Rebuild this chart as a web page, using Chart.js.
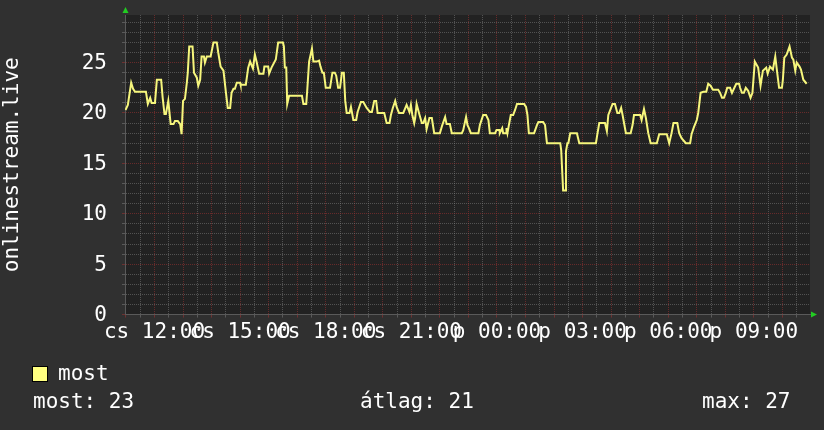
<!DOCTYPE html>
<html>
<head>
<meta charset="utf-8">
<script src="https://cdn.jsdelivr.net/npm/chart.js@4/dist/chart.umd.min.js"></script>
<style>
  html, body { margin: 0; padding: 0; background: #303030; overflow: hidden; }
  #wrap { position: relative; width: 824px; height: 430px; }
  canvas { position: absolute; left: 0; top: 0; }
  .txt { position: absolute; color: #ffffff; font-family: "DejaVu Sans Mono", monospace; font-size: 21px; line-height: 21px; white-space: pre; }
  .swatch { position: absolute; left: 32px; top: 366px; width: 14px; height: 14px; background: #ffff80; border: 1px solid #000; }
</style>
</head>
<body>
<div id="wrap">
  <canvas id="c" width="824" height="430"></canvas>
  <div class="swatch"></div>
  <div class="txt" id="legendText" style="left:58px; top:363px;"></div>
  <div class="txt" id="statNow" style="left:33px; top:391px;"></div>
  <div class="txt" id="statAvg" style="left:360px; top:391px;"></div>
  <div class="txt" id="statMax" style="left:702px; top:391px;"></div>
</div>
<script>
// ---- data ----
const seriesName = "most";
const yAxisTitle = "onlinestream.live";
const startClock = "10:58";          // clock time at the left edge of the plot
const spanMinutes = 1440;            // 24 hours shown
const tickLabels = ["cs 12:00", "cs 15:00", "cs 18:00", "cs 21:00", "p 00:00", "p 03:00", "p 06:00", "p 09:00"];
const statLabels = ["most: 23", "átlag: 21", "max: 27"];

// minutes since the left edge of the plot
const minutes = [
  1, 6, 13, 17, 21, 40, 44, 48, 53, 56,
  63, 67, 76, 79, 83, 86, 91, 96, 102, 105,
  111, 116, 119, 122, 126, 130, 132, 135, 142, 145,
  151, 154, 158, 161, 166, 168, 172, 180, 186, 193,
  196, 201, 207, 212, 216, 221, 224, 228, 231, 235,
  242, 243, 254, 259, 263, 269, 273, 277, 282, 291,
  293, 301, 303, 308, 317, 322, 332, 334, 336, 339,
  341, 345, 372, 375, 381, 383, 387, 393, 396, 403,
  408, 411, 415, 418, 422, 431, 436, 441, 444, 448,
  452, 456, 460, 463, 466, 472, 475, 480, 486, 489,
  496, 501, 508, 515, 519, 524, 528, 531, 545, 550,
  556, 559, 563, 568, 571, 576, 585, 592, 598, 601,
  604, 608, 610, 613, 618, 624, 627, 631, 634, 640,
  645, 650, 662, 667, 673, 676, 683, 687, 708, 711,
  717, 720, 723, 727, 743, 746, 753, 759, 764, 767,
  778, 781, 787, 788, 793, 795, 801, 802, 804, 807,
  811, 816, 820, 824, 839, 843, 846, 849, 860, 866,
  869, 879, 883, 887, 915, 917, 921, 925, 927, 930,
  932, 936, 950, 955, 990, 993, 997, 1009, 1013, 1016,
  1025, 1030, 1035, 1039, 1043, 1046, 1053, 1063, 1067, 1070,
  1083, 1086, 1091, 1095, 1100, 1105, 1118, 1123, 1139, 1144,
  1149, 1153, 1161, 1165, 1170, 1179, 1188, 1191, 1196, 1202,
  1205, 1210, 1216, 1222, 1226, 1231, 1236, 1247, 1251, 1255,
  1259, 1263, 1266, 1272, 1276, 1281, 1285, 1291, 1293, 1297,
  1301, 1305, 1310, 1315, 1319, 1324, 1331, 1336, 1341, 1348,
  1351, 1356, 1362, 1367, 1370, 1375, 1381, 1383, 1386, 1391,
  1397, 1402, 1405, 1409, 1412, 1418, 1421, 1426, 1433
];
const values = [
  20.3, 20.8, 23.0, 22.4, 22.1, 22.1, 22.1, 20.9, 21.5, 21.0,
  21.0, 23.3, 23.3, 21.6, 19.9, 19.9, 21.2, 18.9, 18.9, 19.2,
  19.2, 18.9, 17.9, 21.2, 21.4, 23.0, 24.0, 26.6, 26.6, 24.0,
  23.5, 22.7, 23.3, 25.6, 25.6, 25.0, 25.6, 25.6, 27.0, 27.0,
  26.0, 24.6, 24.2, 22.1, 20.5, 20.5, 22.0, 22.4, 22.4, 23.0,
  23.0, 22.8, 22.8, 24.5, 25.1, 24.4, 25.8, 25.0, 23.9, 23.9,
  24.6, 24.6, 23.9, 24.5, 25.3, 27.0, 27.0, 26.6, 24.5, 24.5,
  20.9, 21.7, 21.7, 20.9, 20.9, 22.2, 25.1, 26.4, 25.1, 25.1,
  25.2, 24.6, 24.0, 24.0, 22.5, 22.5, 24.0, 24.0, 23.7, 22.5,
  22.5, 24.0, 24.0, 21.2, 20.0, 20.0, 20.6, 19.3, 19.3, 20.1,
  21.1, 21.1, 20.5, 20.1, 20.1, 21.2, 21.2, 20.0, 20.0, 19.0,
  19.0, 19.8, 20.5, 21.2, 20.6, 20.0, 20.0, 20.8, 20.1, 20.8,
  19.8, 19.0, 19.5, 20.9, 20.0, 19.0, 19.0, 19.5, 18.4, 19.5,
  19.5, 18.0, 18.0, 18.8, 19.6, 18.9, 18.9, 18.0, 18.0, 18.3,
  19.6, 18.8, 18.5, 18.0, 18.0, 18.8, 19.8, 19.8, 19.3, 18.0,
  18.0, 18.3, 18.3, 18.0, 18.5, 18.0, 18.0, 18.5, 18.0, 18.8,
  19.8, 19.8, 20.3, 20.9, 20.9, 20.6, 19.8, 18.0, 18.0, 18.8,
  19.1, 19.1, 18.8, 17.0, 17.0, 16.3, 12.3, 12.3, 16.2, 17.0,
  17.0, 18.0, 18.0, 17.0, 17.0, 17.9, 19.0, 19.0, 18.2, 19.8,
  20.9, 20.9, 20.0, 20.0, 20.5, 19.8, 18.0, 18.0, 18.8, 19.8,
  19.8, 19.3, 20.4, 19.5, 18.0, 17.0, 17.0, 17.9, 17.9, 17.0,
  18.0, 19.0, 19.0, 18.0, 17.5, 17.0, 17.0, 17.9, 18.6, 19.3,
  20.0, 22.0, 22.1, 22.1, 22.9, 22.7, 22.3, 22.3, 22.0, 21.5,
  21.5, 22.0, 22.5, 22.5, 22.0, 22.5, 22.9, 22.9, 22.5, 22.0,
  22.0, 22.5, 22.2, 21.5, 22.0, 25.1, 24.5, 22.7, 24.2, 24.5,
  23.9, 24.6, 24.3, 25.6, 24.4, 22.5, 22.5, 23.3, 25.5, 25.8,
  26.6, 25.5, 25.3, 24.2, 25.0, 24.6, 24.3, 23.3, 22.9
];
const yMax = 29.72;

// ---- helpers ----
const FONT = "DejaVu Sans Mono";
const startMin = (() => { const p = startClock.split(":"); return (+p[0]) * 60 + (+p[1]); })();
const clockOf = m => startMin + m;
const firstHalfHour = Math.ceil(startMin / 30) * 30 - startMin;
const firstLabelMin = Math.ceil(startMin / 180) * 180 - startMin;

const GRID_MINOR = "rgba(130,130,130,0.5)";
const GRID_MAJOR = "rgba(150,50,50,0.6)";

document.getElementById("legendText").textContent = seriesName;
document.getElementById("statNow").textContent = statLabels[0];
document.getElementById("statAvg").textContent = statLabels[1];
document.getElementById("statMax").textContent = statLabels[2];

function zeroPadding(scale) {
  scale.paddingTop = 0; scale.paddingBottom = 0;
  scale.paddingLeft = 0; scale.paddingRight = 0;
}

const bgPlugin = {
  id: "bg",
  beforeDraw(chart) {
    const { ctx, chartArea: a } = chart;
    ctx.save();
    ctx.fillStyle = "#303030";
    ctx.fillRect(0, 0, chart.width, chart.height);
    ctx.fillStyle = "#222222";
    ctx.fillRect(a.left, a.top, a.right - a.left, a.bottom - a.top);
    ctx.restore();
  }
};

const arrowPlugin = {
  id: "arrows",
  afterDraw(chart) {
    const { ctx, chartArea: a } = chart;
    ctx.save();
    ctx.fillStyle = "#22cc22";
    const lx = Math.floor(a.left) + 0.5;
    ctx.beginPath();
    ctx.moveTo(lx, a.top - 8);
    ctx.lineTo(lx - 3, a.top - 2);
    ctx.lineTo(lx + 3, a.top - 2);
    ctx.closePath();
    ctx.fill();
    const by = Math.floor(a.bottom) + 0.5;
    ctx.beginPath();
    ctx.moveTo(a.right + 7, by);
    ctx.lineTo(a.right + 1, by - 3);
    ctx.lineTo(a.right + 1, by + 3);
    ctx.closePath();
    ctx.fill();
    ctx.restore();
  }
};

new Chart(document.getElementById("c"), {
  type: "line",
  data: {
    datasets: [{
      label: seriesName,
      data: minutes.map((m, i) => ({ x: m, y: values[i] })),
      borderColor: "#f6f67c",
      borderWidth: 2,
      pointRadius: 0,
      tension: 0,
      fill: false
    }]
  },
  options: {
    responsive: false,
    animation: false,
    devicePixelRatio: 1,
    layout: { padding: { top: 15, right: 14, bottom: 65.4, left: 0 } },
    plugins: { legend: { display: false }, tooltip: { enabled: false } },
    scales: {
      x: {
        type: "linear",
        min: 0,
        max: spanMinutes,
        afterBuildTicks(scale) {
          const t = [];
          for (let m = firstHalfHour; m <= spanMinutes; m += 30) t.push({ value: m });
          scale.ticks = t;
        },
        afterFit(scale) { scale.height = 50; zeroPadding(scale); },
        ticks: {
          autoSkip: false, maxRotation: 0, minRotation: 0, padding: 2,
          color: "#ffffff",
          font: { family: FONT, size: 21 },
          callback: v => {
            const d = v - firstLabelMin;
            if (d >= 0 && d % 180 === 0) return tickLabels[d / 180] || "";
            return "";
          }
        },
        grid: {
          lineWidth: 1,
          tickLength: 3,
          color: c => (c.tick && clockOf(c.tick.value) % 60 === 0) ? GRID_MAJOR : GRID_MINOR
        },
        border: { display: true, color: "#5a5a5a", width: 1, dash: [1, 1] }
      },
      y: {
        min: 0,
        max: yMax,
        afterBuildTicks(scale) {
          const t = [];
          for (let v = 0; v <= Math.floor(yMax); v++) t.push({ value: v });
          scale.ticks = t;
        },
        afterFit(scale) { scale.width = 125; zeroPadding(scale); },
        ticks: {
          autoSkip: false, padding: 15, labelOffset: 1,
          color: "#ffffff",
          font: { family: FONT, size: 21 },
          callback: v => (v % 5 === 0 ? String(v) : "")
        },
        grid: {
          lineWidth: 1,
          tickLength: 3,
          color: c => (c.tick && c.tick.value % 5 === 0) ? GRID_MAJOR : GRID_MINOR
        },
        border: { display: true, color: "#5a5a5a", width: 1, dash: [1, 1] },
        title: {
          display: true, text: yAxisTitle, color: "#ffffff",
          font: { family: FONT, size: 21 },
          padding: { top: 0, bottom: 0 }
        }
      }
    }
  },
  plugins: [bgPlugin, arrowPlugin]
});
</script>
</body>
</html>
